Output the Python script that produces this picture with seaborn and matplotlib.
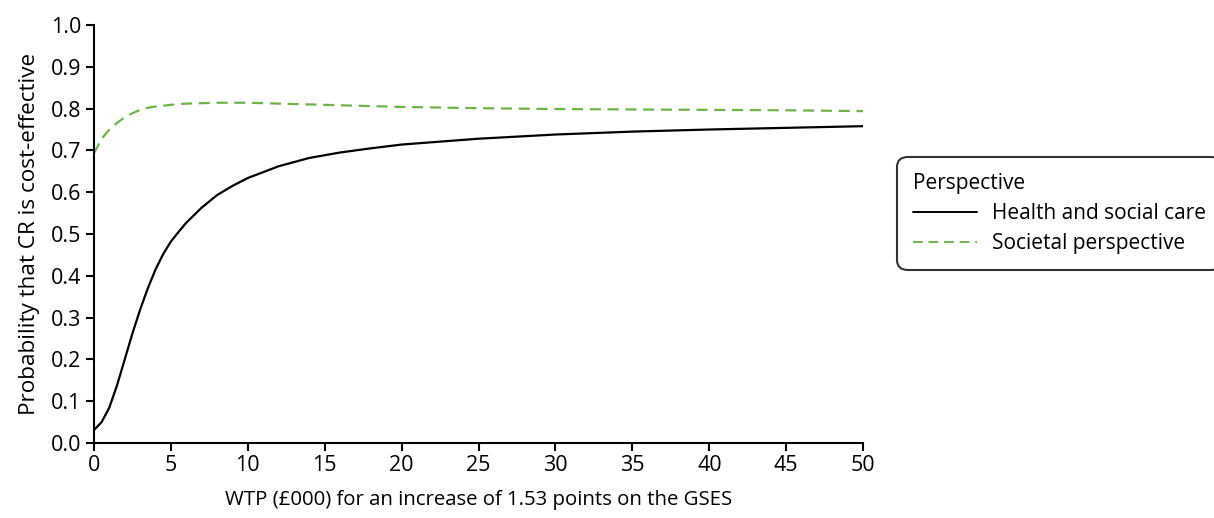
import matplotlib
matplotlib.use("Agg")
import matplotlib.pyplot as plt
import seaborn as sns
import pandas as pd

# willingness to pay (GBP 000) and probability curves
wtp = [0, 0.5, 1, 1.5, 2, 2.5, 3, 3.5, 4, 4.5, 5, 5.5, 6, 7, 8, 9, 10, 12, 14, 16, 18, 20,
       25, 30, 35, 40, 45, 50]
health_social = [0.031, 0.05, 0.085, 0.138, 0.20, 0.262, 0.319, 0.37, 0.415, 0.452, 0.482,
                 0.505, 0.527, 0.563, 0.593, 0.615, 0.634, 0.662, 0.682, 0.695, 0.705, 0.714,
                 0.728, 0.738, 0.745, 0.750, 0.754, 0.758]
societal = [0.693, 0.728, 0.75, 0.766, 0.779, 0.789, 0.797, 0.802, 0.805, 0.807, 0.809,
            0.811, 0.812, 0.813, 0.814, 0.814, 0.814, 0.812, 0.810, 0.808, 0.806, 0.804,
            0.801, 0.799, 0.798, 0.797, 0.796, 0.794]
labels = ["Health and social care", "Societal perspective"]

df = pd.DataFrame({
    "wtp": wtp * 2,
    "prob": health_social + societal,
    "Perspective": [labels[0]] * len(wtp) + [labels[1]] * len(wtp),
})

sns.set_style("ticks")
plt.rcParams["font.family"] = ["Open Sans", "DejaVu Sans"]
plt.rcParams["text.color"] = "black"
plt.rcParams["axes.labelcolor"] = "black"
fs = 15.5

fig = plt.figure(figsize=(12.14, 5.18), dpi=100)
ax = fig.add_axes([0.0774, 0.1448, 0.6336, 0.8069])

sns.lineplot(data=df, x="wtp", y="prob", hue="Perspective", style="Perspective",
             palette={labels[0]: "black", labels[1]: "#6cb648"},
             dashes={labels[0]: "", labels[1]: (5, 3)},
             linewidth=1.6, ax=ax)

ax.set_xlim(0, 50)
ax.set_ylim(0, 1.0)
ax.set_xticks(range(0, 51, 5))
ax.set_yticks([i / 10 for i in range(11)])
ax.set_yticklabels([f"{i / 10:.1f}" for i in range(11)])
ax.tick_params(length=6, width=1.5, labelsize=fs, colors="black", pad=3)
for s in ["left", "bottom"]:
    ax.spines[s].set_linewidth(1.5)
    ax.spines[s].set_color("black")
sns.despine(ax=ax)
ax.set_xlabel("WTP (£000) for an increase of 1.53 points on the GSES", fontsize=14.7,
              labelpad=10, color="black")
ax.set_ylabel("Probability that CR is cost-effective", fontsize=16.2, labelpad=8, color="black")

handles, lbls = ax.get_legend_handles_labels()
leg = fig.legend(handles, lbls, title="Perspective", loc="upper left",
                 bbox_to_anchor=(0.739, 0.697), frameon=True, fontsize=15,
                 title_fontsize=15, alignment="left", handlelength=3.1,
                 handletextpad=0.7, borderpad=0.75, labelspacing=0.45,
                 borderaxespad=0, fancybox=True)
if ax.get_legend():
    ax.get_legend().remove()
leg.get_frame().set_edgecolor("black")
leg.get_frame().set_linewidth(1.5)
leg.get_frame().set_boxstyle("round,pad=0,rounding_size=0.5")
for ln in leg.get_lines():
    ln.set_linewidth(1.4)
for t in leg.get_texts():
    t.set_color("black")
leg.get_title().set_color("black")

fig.savefig("out.png", dpi=100)
